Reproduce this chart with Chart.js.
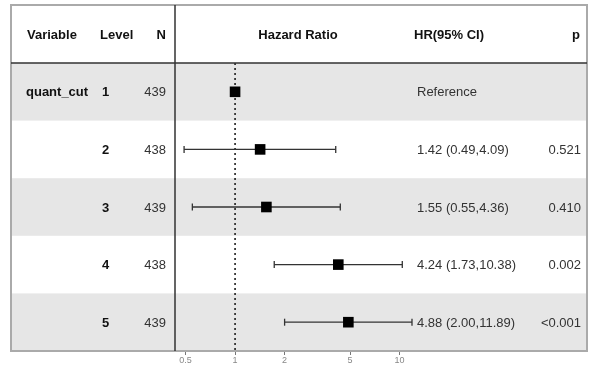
<!DOCTYPE html>
<html>
<head>
<meta charset="utf-8">
<script src="https://cdn.jsdelivr.net/npm/chart.js@4"></script>
<style>
  body { margin: 0; background: #fff; }
  canvas { display: block; }
</style>
</head>
<body>
<canvas id="forest" width="596" height="365"></canvas>
<script>
const variables = ['quant_cut', '', '', '', '']
const levels = ['1', '2', '3', '4', '5']
const nCounts = ['439', '438', '439', '438', '439']
const hr = [1, 1.42, 1.55, 4.24, 4.88]
const hrLower = [null, 0.49, 0.55, 1.73, 2.00]
const hrUpper = [null, 4.09, 4.36, 10.38, 11.89]
const hrText = ['Reference', '1.42 (0.49,4.09)', '1.55 (0.55,4.36)', '4.24 (1.73,10.38)', '4.88 (2.00,11.89)']
const pValues = ['', '0.521', '0.410', '0.002', '<0.001']
const xTicks = [0.5, 1, 2, 5, 10]

const rows = levels.map((l, i) => i + 1)
const FONT = '"Liberation Sans", Arial, sans-serif'

// squares first so they are drawn on top
const datasets = [{
    data: rows.map((r, i) => ({x: hr[i], y: r})),
    pointStyle: 'rect',
    pointRadius: 7.5,
    backgroundColor: '#000',
    borderColor: '#000',
    borderWidth: 0,
    showLine: false
}]

rows.forEach((r, i) => {
    if (hrLower[i] == null) return
    datasets.push({
        data: [{x: hrLower[i], y: r}, {x: hrUpper[i], y: r}],
        showLine: true,
        borderColor: '#333',
        borderWidth: 1.3,
        pointStyle: 'line',
        pointRotation: 90,
        pointRadius: 3.5,
        pointBorderColor: '#333',
        pointBorderWidth: 1.3
    })
})

datasets.push({
    data: [{x: 1, y: 0.5}, {x: 1, y: 5.5}],
    showLine: true,
    borderColor: '#111',
    borderWidth: 1.5,
    borderDash: [2, 3],
    pointRadius: 0
})

const tablePlugin = {
    id: 'table',
    beforeDatasetsDraw(chart) {
        const ctx = chart.ctx
        const y = chart.scales.y
        const step = y.getPixelForValue(2) - y.getPixelForValue(1)
        ctx.save()
        ctx.fillStyle = '#e6e6e6'
        rows.forEach(r => {
            if (r % 2 == 0) return
            const cy = y.getPixelForValue(r)
            ctx.fillRect(12, cy - step / 2, 574, step)
        })
        ctx.restore()
    },
    afterDraw(chart) {
        const ctx = chart.ctx
        const y = chart.scales.y
        const bottom = chart.chartArea.bottom
        ctx.save()
        ctx.textBaseline = 'middle'

        // headers
        ctx.fillStyle = '#111'
        ctx.font = `bold 13px ${FONT}`
        ctx.textAlign = 'left'
        ctx.fillText('Variable', 27, 35)
        ctx.fillText('Level', 100, 35)
        ctx.fillText('HR(95% CI)', 414, 35)
        ctx.textAlign = 'right'
        ctx.fillText('N', 166, 35)
        ctx.fillText('p', 580, 35)
        ctx.textAlign = 'center'
        ctx.fillText('Hazard Ratio', 298, 35)

        rows.forEach((r, i) => {
            const cy = y.getPixelForValue(r) + 1
            ctx.font = `bold 13px ${FONT}`
            ctx.fillStyle = '#111'
            ctx.textAlign = 'left'
            ctx.fillText(variables[i], 26, cy)
            ctx.fillText(levels[i], 102, cy)
            ctx.font = `13px ${FONT}`
            ctx.fillStyle = '#333'
            ctx.textAlign = 'right'
            ctx.fillText(nCounts[i], 166, cy)
            ctx.fillText(pValues[i], 581, cy)
            ctx.textAlign = 'left'
            ctx.fillText(hrText[i], 417, cy)
        })

        // table lines
        ctx.strokeStyle = '#aaa'
        ctx.lineWidth = 2
        ctx.strokeRect(11, 5, 576, bottom - 5)
        ctx.strokeStyle = '#333'
        ctx.lineWidth = 1.5
        ctx.beginPath()
        ctx.moveTo(11, 63)
        ctx.lineTo(587, 63)
        ctx.moveTo(175, 5)
        ctx.lineTo(175, bottom)
        ctx.stroke()
        ctx.restore()
    }
}

new Chart(document.getElementById('forest'), {
    type: 'scatter',
    data: { datasets: datasets },
    options: {
        responsive: false,
        animation: false,
        layout: {
            padding: {left: 178, right: 176, top: 63, bottom: 0}
        },
        scales: {
            x: {
                type: 'logarithmic',
                min: 0.45,
                max: 13.3,
                afterBuildTicks: scale => {
                    scale.ticks = xTicks.map(v => ({value: v}))
                },
                afterFit: scale => {
                    scale.height = 14
                },
                border: { display: false },
                grid: {
                    drawOnChartArea: false,
                    drawTicks: true,
                    tickLength: 4,
                    color: '#777'
                },
                ticks: {
                    callback: v => String(v),
                    autoSkip: false,
                    maxRotation: 0,
                    padding: 0,
                    color: '#888',
                    font: { size: 9, family: FONT }
                }
            },
            y: {
                display: false,
                min: 0.5,
                max: 5.5,
                reverse: true
            }
        },
        plugins: {
            legend: { display: false },
            tooltip: { enabled: false }
        }
    },
    plugins: [tablePlugin]
})
</script>
</body>
</html>
